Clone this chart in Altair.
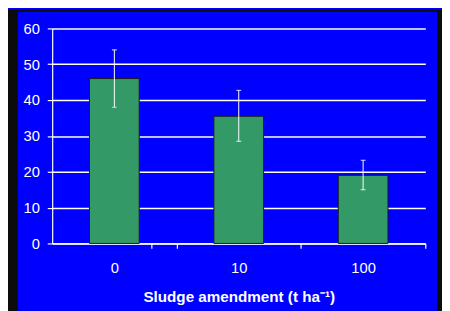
import altair as alt
import pandas as pd

categories = ["0", "10", "100"]
values = [46, 35.5, 19]
err_low = [38, 28.5, 15]
err_high = [54, 42.7, 23.2]

df = pd.DataFrame({"cat": categories, "val": values, "lo": err_low, "hi": err_high})

W, H = 380, 219
STEP = W / len(categories)
DARK = "#0c0c0c"

one = pd.DataFrame({"a": [0]})
left_strip = alt.Chart(one).mark_rect(color=DARK).encode(
    x=alt.value(-46), x2=alt.value(-35), y=alt.value(-19), y2=alt.value(290)
)
top_strip = alt.Chart(one).mark_rect(color=DARK).encode(
    x=alt.value(-46), x2=alt.value(400), y=alt.value(-19), y2=alt.value(-17)
)
right_strip = alt.Chart(one).mark_rect(color=DARK).encode(
    x=alt.value(392), x2=alt.value(400), y=alt.value(-19), y2=alt.value(290)
)

xaxis = alt.Axis(
    title="Sludge amendment (t ha⁻¹)", labelAngle=0,
    tickOffset=STEP / 2, labelOffset=-STEP / 2, tickExtra=True,
    domain=True, ticks=True, tickSize=5, labelPadding=13, titlePadding=14,
)
xscale = alt.Scale(paddingInner=0.6, paddingOuter=0.3)
yaxis = alt.Axis(values=[0, 10, 20, 30, 40, 50, 60], domain=True, ticks=True,
                 tickSize=5, labelPadding=8, title=None)
yscale = alt.Scale(domain=[0, 60])


def X():
    return alt.X("cat:N", sort=categories, scale=xscale, axis=xaxis)


def Y(field):
    return alt.Y(field, scale=yscale, axis=yaxis)


bars = alt.Chart(df).mark_bar(color="#339966", stroke="#1a1a1a", strokeWidth=1).encode(x=X(), y=Y("val:Q"))
rules = alt.Chart(df).mark_rule(color="white", strokeWidth=1).encode(x=X(), y=Y("lo:Q"), y2="hi:Q")
caps_hi = alt.Chart(df).mark_tick(color="white", size=5, thickness=1.2, orient="horizontal").encode(
    x=X(), y=Y("hi:Q")
)
caps_lo = alt.Chart(df).mark_tick(color="white", size=5, thickness=1.2, orient="horizontal").encode(
    x=X(), y=Y("lo:Q")
)

chart = alt.layer(bars, rules, caps_hi, caps_lo, left_strip, top_strip, right_strip).properties(
    width=W, height=H,
    background="#0000ff",
    autosize=alt.AutoSizeParams(type="none"),
    padding={"left": 45, "top": 18, "right": 17, "bottom": 66},
).configure_view(stroke=None).configure_axis(
    domainColor="white", tickColor="white", gridColor="white", gridWidth=1.5,
    labelColor="white", titleColor="white", labelFont="Liberation Sans",
    titleFont="Liberation Sans", labelFontSize=15, titleFontSize=15.5, titleFontWeight="bold",
    domainWidth=1.2, tickWidth=1.2,
).configure_axisX(grid=False)

chart.save("out.html", embed_options={"renderer": "svg", "actions": False})
